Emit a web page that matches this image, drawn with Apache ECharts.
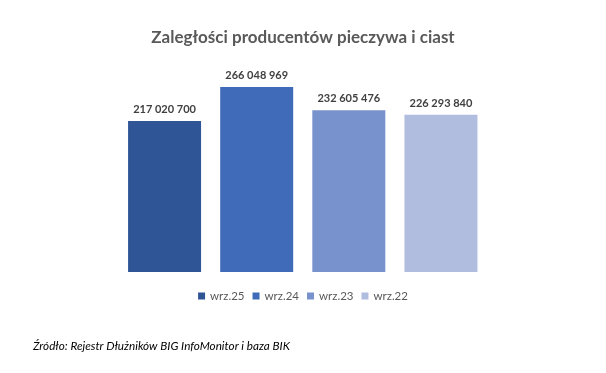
<!DOCTYPE html>
<html><head><meta charset="utf-8">
<script src="https://cdn.jsdelivr.net/npm/echarts@6/dist/echarts.min.js"></script>
<style>html,body{margin:0;padding:0;background:#fff}#c{width:606px;height:373px}</style>
</head><body><div id="c"></div>
<script>
const categories = ['wrz.25', 'wrz.24', 'wrz.23', 'wrz.22'];
const values = [217020700, 266048969, 232605476, 226293840];
const colors = ['#2F5597', '#3F6BB9', '#7892CD', '#B1BDDF'];
const fmt = v => String(v).replace(/\B(?=(\d{3})+(?!\d))/g, ' ');
const series = categories.map((name, i) => ({
  name: name, type: 'bar', stack: 's', barWidth: 73,
  itemStyle: {color: colors[i]},
  data: categories.map((c, j) => j === i ? values[i] : '-'),
  label: {show: true, position: 'top', distance: 6, color: '#404040', fontWeight: 'bold', fontSize: 11, fontFamily: 'Lato',
    formatter: p => fmt(p.value)}
}));
const chart = echarts.init(document.getElementById('c'));
chart.setOption({
  animation: false,
  title: {text: 'Zaległości producentów pieczywa i ciast', left: 'center', top: 24,
    textStyle: {fontSize: 17, fontWeight: 'bold', color: '#595959', fontFamily: 'Lato'}},
  legend: {bottom: 66, left: 'center', itemWidth: 7, itemHeight: 7, itemGap: 8, icon: 'rect',
    textStyle: {color: '#595959', fontSize: 11.5, fontFamily: 'Lato'}},
  grid: {left: 118.5, right: 119, top: 63.4, bottom: 101},
  xAxis: {type: 'category', data: categories, show: false},
  yAxis: {type: 'value', min: 0, max: 300000000, show: false},
  series: series,
  graphic: [{type: 'text', left: 33, top: 340, style: {text: 'Źródło: Rejestr Dłużników BIG InfoMonitor i baza BIK', fontSize: 11.7, fontStyle: 'italic', fontFamily: 'Lato', fill: '#000'}}]
});
</script></body></html>
